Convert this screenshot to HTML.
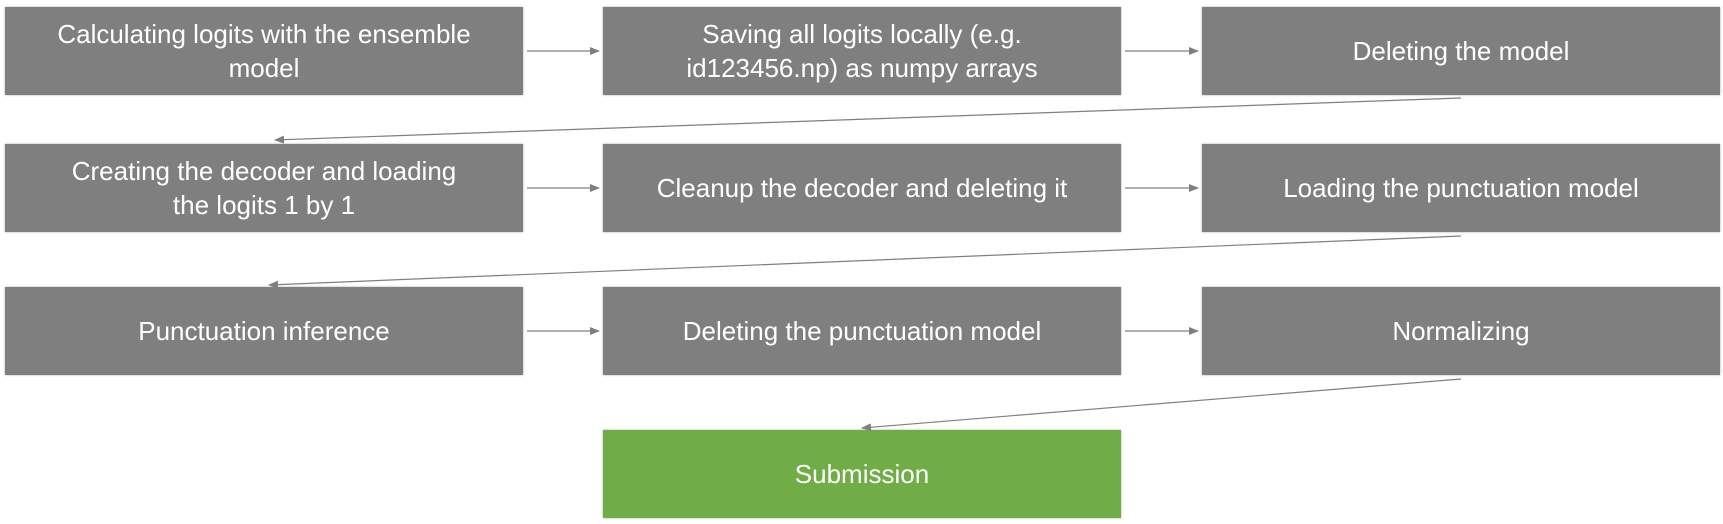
<!DOCTYPE html>
<html><head><meta charset="utf-8"><style>
html,body{margin:0;padding:0;background:#fff;}
body{width:1723px;height:524px;position:relative;overflow:hidden;font-family:"Liberation Sans",sans-serif;}
.b{position:absolute;width:518px;height:88px;background:#7f7f7f;color:#fff;display:flex;align-items:center;justify-content:center;text-align:center;font-size:26px;line-height:34px;box-sizing:border-box;padding:0 4px;white-space:nowrap;box-shadow:0 0 2px rgba(0,0,0,0.35);}
.g{background:#70ad47;}
svg{position:absolute;left:0;top:0;}
</style></head><body>
<div class="b" style="left:5px;top:7px">Calculating logits with the ensemble<br>model</div>
<div class="b" style="left:603px;top:7px">Saving all logits locally (e.g.<br>id123456.np) as numpy arrays</div>
<div class="b" style="left:1202px;top:7px">Deleting the model</div>
<div class="b" style="left:5px;top:144px">Creating the decoder and loading<br>the logits 1 by 1</div>
<div class="b" style="left:603px;top:144px">Cleanup the decoder and deleting it</div>
<div class="b" style="left:1202px;top:144px">Loading the punctuation model</div>
<div class="b" style="left:5px;top:287px">Punctuation inference</div>
<div class="b" style="left:603px;top:287px">Deleting the punctuation model</div>
<div class="b" style="left:1202px;top:287px">Normalizing</div>
<div class="b g" style="left:603px;top:430px">Submission</div>
<svg width="1723" height="524">
<defs><marker id="a" markerWidth="10" markerHeight="8" refX="9" refY="4" orient="auto" markerUnits="userSpaceOnUse"><path d="M0,0 L10,4 L0,8 Z" fill="#7f7f7f"/></marker></defs>
<g stroke="#7f7f7f" stroke-width="1.2" fill="none" marker-end="url(#a)">
<line x1="527" y1="51" x2="599" y2="51"/>
<line x1="1125" y1="51" x2="1198" y2="51"/>
<line x1="527" y1="188" x2="599" y2="188"/>
<line x1="1125" y1="188" x2="1198" y2="188"/>
<line x1="527" y1="331" x2="599" y2="331"/>
<line x1="1125" y1="331" x2="1198" y2="331"/>
<line x1="1461" y1="98" x2="275" y2="140"/>
<line x1="1461" y1="236" x2="269" y2="285"/>
<line x1="1461" y1="379" x2="862" y2="428"/>
</g>
</svg>
</body></html>
